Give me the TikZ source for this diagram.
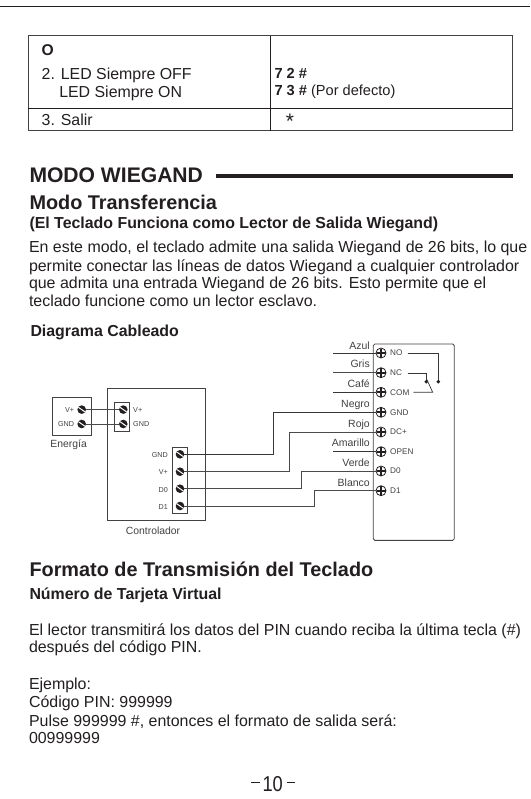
\documentclass[tikz,border=0pt]{standalone}
\usepackage{fontspec}
\setmainfont{Liberation Sans}
\definecolor{ink}{HTML}{231F20}
\definecolor{wiregray}{HTML}{4A4A4A}
\tikzset{
  x=1pt,y=-1pt,
  txt/.style={anchor=base west,inner sep=0pt,outer sep=0pt,text=ink,font=\fontsize{15.95}{18}\selectfont},
  cell/.style={txt,font=\fontsize{15.9}{18}\selectfont},
  cellr/.style={txt,font=\fontsize{14.6}{18}\selectfont},
  tb/.style={txt,font=\fontsize{15.9}{18}\selectfont\bfseries},
  h1/.style={txt,font=\fontsize{21.1}{24}\selectfont\bfseries},
  h2/.style={txt,font=\fontsize{19.85}{24}\selectfont\bfseries},
  lbl/.style={anchor=base east,inner sep=0pt,text=ink!85,font=\fontsize{7.2}{8}\selectfont},
  captxt/.style={anchor=base,inner sep=0pt,text=ink!85,font=\fontsize{10.4}{12}\selectfont},
  wirelbl/.style={anchor=base east,inner sep=0pt,text=ink!85,font=\fontsize{10.5}{12}\selectfont},
  tlbl/.style={anchor=base west,inner sep=0pt,text=ink!85,font=\fontsize{7.2}{8}\selectfont},
  rlbl/.style={anchor=base west,inner sep=0pt,text=ink!85,font=\fontsize{8.2}{9}\selectfont},
  box/.style={draw=ink!85,line width=.8pt},
  wire/.style={draw=wiregray,line width=.9pt},
  thinwire/.style={draw=ink!90,line width=.7pt},
  screw/.style={circle,fill=ink,inner sep=0pt,minimum size=8.6pt,outer sep=0pt,
    path picture={\draw[white,line width=1pt] ([xshift=-4.3pt,yshift=3pt]path picture bounding box.center) -- ([xshift=4.3pt,yshift=-3pt]path picture bounding box.center);}},
  termdot/.style={circle,draw=ink,line width=.8pt,fill=white,inner sep=0pt,minimum size=10pt,outer sep=0pt,
    path picture={
      \draw[ink,line width=2.2pt] ([xshift=-4.5pt]path picture bounding box.center) -- ([xshift=4.5pt]path picture bounding box.center);
      \draw[ink,line width=2.2pt] ([yshift=-4.5pt]path picture bounding box.center) -- ([yshift=4.5pt]path picture bounding box.center);}},
  swdot/.style={circle,fill=ink,inner sep=0pt,minimum size=3.8pt},
}
\begin{document}
\begin{tikzpicture}
\useasboundingbox (0,0) rectangle (530,799);
\fill[white] (0,0) rectangle (530,799);
% top rule
\coordinate (ruleL) at (0,6); \coordinate (ruleR) at (530,6);
\draw[ink,line width=.9pt] (ruleL) -- (ruleR);
% table
\draw[box] (28,35.7) rectangle (512,130.7);
\draw[ink,line width=.9pt] (28,108) -- (512,108);
\draw[ink,line width=.9pt] (270.4,35.7) -- (270.4,130.7);
\node[cell,font=\fontsize{15.6}{18}\selectfont\bfseries] (t0) at (41.7,56) {O};
\node[cell] (t1) at (41.7,79.3) {2. LED Siempre OFF};
\node[cell] (t2) at (59.3,97.3) {LED Siempre ON};
\node[cell] (t3) at (41.7,126) {3. Salir};
\node[cellr,font=\fontsize{14.6}{18}\selectfont\bfseries] (t4) at (274.5,78.3) {7 2 \#};
\node[cellr] (t5) at (274.5,95.7) {\textbf{7 3 \#} (Por defecto)};
\node[anchor=base,inner sep=0pt,text=ink,font=\fontsize{21}{21}\selectfont] (t6) at (290,129) {*};
% heading
\node[h1] (mw) at (29.5,182.7) {MODO WIEGAND};
\coordinate (mwL) at (216,175.7); \coordinate (mwR) at (513.3,175.7);
\draw[ink,line width=4pt] (mwL) -- (mwR);
\node[h2] (h2a) at (29.5,209.3) {Modo Transferencia};
\node[tb] (h3a) at (29.5,229) {(El Teclado Funciona como Lector de Salida Wiegand)};
\node[txt] (p1) at (29,252.6) {En este modo, el teclado admite una salida Wiegand de 26 bits, lo que};
\node[txt] (p2) at (29,271) {permite conectar las líneas de datos Wiegand a cualquier controlador};
\node[txt] (p3) at (29,288) {que admita una entrada Wiegand de 26 bits. Esto permite que el};
\node[txt] (p4) at (29,306.7) {teclado funcione como un lector esclavo.};
\node[tb] (dc) at (30.5,336.7) {Diagrama Cableado};
% Energia
\node[draw=ink!85,line width=.8pt,minimum width=38.3pt,minimum height=38pt,inner sep=0pt] (pow) at (71.85,416.7) {};
\node[captxt] (powl) at (68.7,447.7) {Energía};
\node[screw] (pv) at (81.7,409.6) {};
\node[screw] (pg) at (81.7,424) {};
\node[lbl] (pvl) at (74.3,412.2) {V+};
\node[lbl] (pgl) at (74.3,426.5) {GND};
% Controller
\node[draw=ink!85,line width=.8pt,minimum width=98.4pt,minimum height=132pt,inner sep=0pt] (ctl) at (156.5,454.3) {};
\node[captxt] (ctll) at (153,534.3) {Controlador};
\node[draw=ink!85,line width=.8pt,minimum width=14.3pt,minimum height=29pt,inner sep=0pt] (ctlA) at (121.9,416.8) {};
\node[screw] (cv) at (123.3,409.6) {};
\node[screw] (cg) at (123.3,424) {};
\node[tlbl] (cvl) at (133,412.2) {V+};
\node[tlbl] (cgl) at (133,426.5) {GND};
\node[draw=ink!85,line width=.8pt,minimum width=14.3pt,minimum height=66pt,inner sep=0pt] (ctlB) at (179.9,480.7) {};
\node[screw] (s1) at (180,454.3) {};
\node[screw] (s2) at (180,471.7) {};
\node[screw] (s3) at (180,488.7) {};
\node[screw] (s4) at (180,506) {};
\node[lbl] (s1l) at (168,457) {GND};
\node[lbl] (s2l) at (168,474.2) {V+};
\node[lbl] (s3l) at (168,492) {D0};
\node[lbl] (s4l) at (168,509) {D1};
% Lock
\node[draw=ink!85,line width=.8pt,rounded corners=1.5pt,minimum width=81pt,minimum height=196.3pt,inner sep=0pt] (lock) at (413.8,442.2) {};
\foreach \n/\yy/\lab in {r1/353/NO,r2/372.7/NC,r3/392.3/COM,r4/412.3/GND,r5/432/DC+,r6/451.7/OPEN,r7/471/D0,r8/490.7/D1}{
  \node[termdot] (\n) at (381,\yy) {};
  \node[rlbl] (\n l) at (390,\yy+2.9) {\lab};
}
\coordinate (a1) at (333.3,353);
\coordinate (a2) at (333.3,372.7);
\coordinate (a3) at (333.3,392.3);
\coordinate (a6) at (333.3,451.7);
\foreach \yy/\lab/\m in {349/Azul/w1,367.7/Gris/w2,387.7/Café/w3,407.7/Negro/w4,427.7/Rojo/w5,446.7/Amarillo/w6,466.3/Verde/w7,486.7/Blanco/w8}{
  \node[wirelbl] (\m) at (370,\yy) {\lab};
}
% wires
\draw[wire] (pv) -- (cv);
\draw[wire] (pg) -- (cg);
\draw[thinwire] (a1) -- (r1);
\draw[wire] (a2) -- (r2);
\draw[thinwire] (a3) -- (r3);
\draw[thinwire] (a6) -- (r6);
\draw[thinwire] (s1) -- (273.7,454.3) -- (273.7,412.3) -- (r4);
\draw[wire] (s2) -- (289.3,471.7) -- (289.3,432) -- (r5);
\draw[wire] (s3) -- (301,488.7) -- (301,471) -- (r7);
\draw[wire] (s4) -- (314.3,506) -- (314.3,490.7) -- (r8);
% switch
\node[swdot] (dno) at (438.3,381.7) {};
\node[swdot] (dnc) at (426.3,381.7) {};
\coordinate (no) at (407.7,353.3);
\coordinate (nc) at (407.7,373);
\coordinate (com) at (413.3,392.3);
\coordinate (armEnd) at (432.7,392.3);
\coordinate (armTip) at (426.3,378.3);
\draw[thinwire] (no) -| (dno);
\draw[thinwire] (nc) -| (dnc);
\draw[thinwire] (com) -- (armEnd) -- (armTip);
% lower text
\node[h2] (h2b) at (29.5,576.7) {Formato de Transmisión del Teclado};
\node[tb] (h3b) at (29.5,599.3) {Número de Tarjeta Virtual};
\node[txt] (q1) at (29,635) {El lector transmitirá los datos del PIN cuando reciba la última tecla (\#)};
\node[txt] (q2) at (29,652.7) {después del código PIN.};
\node[txt] (q3) at (29,689) {Ejemplo:};
\node[txt] (q4) at (29,707.7) {Código PIN: 999999};
\node[txt] (q5) at (29,726) {Pulse 999999 \#, entonces el formato de salida será:};
\node[txt] (q6) at (29,743.7) {00999999};
\node[anchor=base,inner sep=0pt,text=ink,font=\fontsize{21.5}{22}\selectfont,xscale=.85,transform shape] (pg10) at (272.7,791.7) {10};
\coordinate (d1) at (251,782.7); \coordinate (d2) at (260,782.7);
\coordinate (d3) at (286.7,782.7); \coordinate (d4) at (295,782.7);
\draw[ink,line width=1.2pt] (d1) -- (d2);
\draw[ink,line width=1.2pt] (d3) -- (d4);
\end{tikzpicture}
\end{document}
